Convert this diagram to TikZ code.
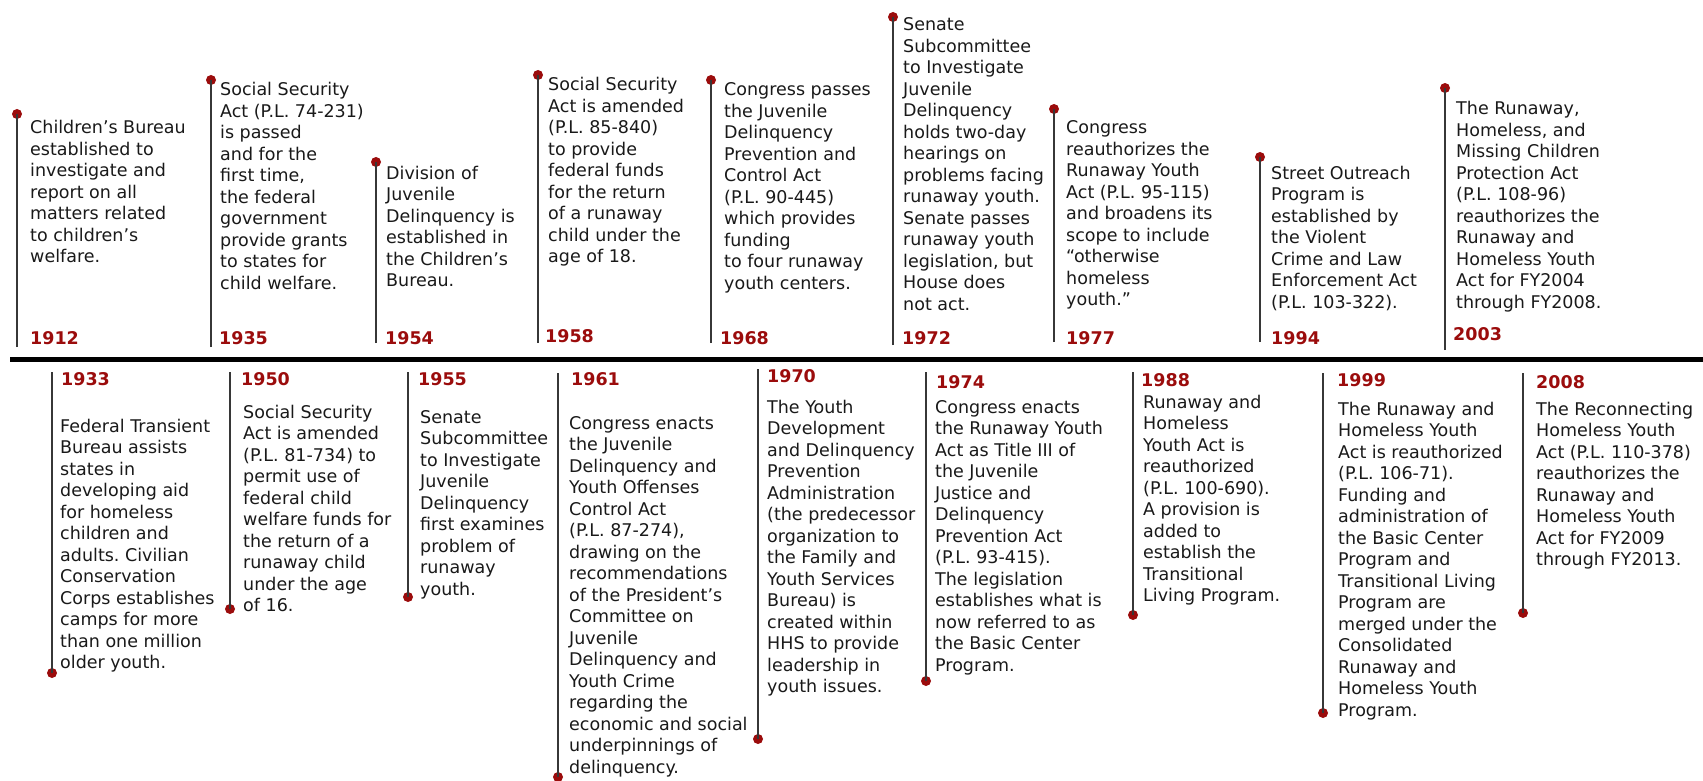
\documentclass[tikz,border=0pt]{standalone}
\usepackage{fontspec}
\setmainfont{DejaVu Sans}
\frenchspacing
\definecolor{tlred}{RGB}{155,12,12}
\definecolor{stemgray}{RGB}{55,55,55}
\definecolor{txtgray}{RGB}{25,25,25}
\newcommand\tllines[1]{\begin{tabular}[t]{@{}l@{}}#1\end{tabular}}
\begin{document}
\begin{tikzpicture}[x=1pt,y=-1pt,
  stem/.style={draw=stemgray,line width=2pt},
  pin/.style={circle,fill=tlred,inner sep=0pt,minimum size=10pt},
  yr/.style={anchor=base west,inner sep=0pt,text=tlred,font=\fontsize{17.5}{21.5}\selectfont\bfseries},
  txt/.style={anchor=base west,inner sep=0pt,text=txtgray,font=\fontsize{17.5}{21.5}\selectfont\frenchspacing}]
\useasboundingbox (0,0) rectangle (1703,781);
% main axis
\coordinate (axL) at (10,359);
\coordinate (axR) at (1703,359);
\draw[line width=5pt] (axL) -- (axR);

% ---------- top events ----------
% 1912
\node[pin] (p1912) at (17,114) {};
\coordinate (s1912) at (17,347);
\draw[stem] (s1912) -- (p1912.center);
\node[txt] (t1912) at (30,134) {\tllines{Children’s Bureau\\established to\\investigate and\\report on all\\matters related\\to children’s\\welfare.}};
\node[yr] (y1912) at (30,344) {1912};
% 1935
\node[pin] (p1935) at (211,80) {};
\coordinate (s1935) at (211,347);
\draw[stem] (s1935) -- (p1935.center);
\node[txt] (t1935) at (220,96) {\tllines{Social Security\\Act (P.L. 74-231)\\is passed\\and for the\\first time,\\the federal\\government\\provide grants\\to states for\\child welfare.}};
\node[yr] (y1935) at (219,344) {1935};
% 1954
\node[pin] (p1954) at (376,162) {};
\coordinate (s1954) at (376,343);
\draw[stem] (s1954) -- (p1954.center);
\node[txt] (t1954) at (386,179) {\tllines{Division of\\Juvenile\\Delinquency is\\established in\\the Children’s\\Bureau.}};
\node[yr] (y1954) at (385,344) {1954};
% 1958
\node[pin] (p1958) at (538,75) {};
\coordinate (s1958) at (538,343);
\draw[stem] (s1958) -- (p1958.center);
\node[txt] (t1958) at (548,91) {\tllines{Social Security\\Act is amended\\(P.L. 85-840)\\to provide\\federal funds\\for the return\\of a runaway\\child under the\\age of 18.}};
\node[yr] (y1958) at (545,342) {1958};
% 1968
\node[pin] (p1968) at (711,80) {};
\coordinate (s1968) at (711,343);
\draw[stem] (s1968) -- (p1968.center);
\node[txt] (t1968) at (724,96) {\tllines{Congress passes\\the Juvenile\\Delinquency\\Prevention and\\Control Act\\(P.L. 90-445)\\which provides\\funding\\to four runaway\\youth centers.}};
\node[yr] (y1968) at (720,344) {1968};
% 1972
\node[pin] (p1972) at (893,17) {};
\coordinate (s1972) at (893,345);
\draw[stem] (s1972) -- (p1972.center);
\node[txt] (t1972) at (903,31) {\tllines{Senate\\Subcommittee\\to Investigate\\Juvenile\\Delinquency\\holds two-day\\hearings on\\problems facing\\runaway youth.\\Senate passes\\runaway youth\\legislation, but\\House does\\not act.}};
\node[yr] (y1972) at (902,344) {1972};
% 1977
\node[pin] (p1977) at (1054,109) {};
\coordinate (s1977) at (1054,342);
\draw[stem] (s1977) -- (p1977.center);
\node[txt] (t1977) at (1066,134) {\tllines{Congress\\reauthorizes the\\Runaway Youth\\Act (P.L. 95-115)\\and broadens its\\scope to include\\“otherwise\\homeless\\youth.”}};
\node[yr] (y1977) at (1066,344) {1977};
% 1994
\node[pin] (p1994) at (1260,157) {};
\coordinate (s1994) at (1260,342);
\draw[stem] (s1994) -- (p1994.center);
\node[txt] (t1994) at (1271,179) {\tllines{Street Outreach\\Program is\\established by\\the Violent\\Crime and Law\\Enforcement Act\\(P.L. 103-322).}};
\node[yr] (y1994) at (1271,344) {1994};
% 2003
\node[pin] (p2003) at (1445,88) {};
\coordinate (s2003) at (1445,350);
\draw[stem] (s2003) -- (p2003.center);
\node[txt] (t2003) at (1456,115) {\tllines{The Runaway,\\Homeless, and\\Missing Children\\Protection Act\\(P.L. 108-96)\\reauthorizes the\\Runaway and\\Homeless Youth\\Act for FY2004\\through FY2008.}};
\node[yr] (y2003) at (1453,340) {2003};

% ---------- bottom events ----------
% 1933
\coordinate (s1933) at (52,372);
\node[pin] (p1933) at (52,673) {};
\draw[stem] (s1933) -- (p1933.center);
\node[yr] (y1933) at (61,385) {1933};
\node[txt] (t1933) at (60,432) {\tllines{Federal Transient\\Bureau assists\\states in\\developing aid\\for homeless\\children and\\adults. Civilian\\Conservation\\Corps establishes\\camps for more\\than one million\\older youth.}};
% 1950
\coordinate (s1950) at (230,372);
\node[pin] (p1950) at (230,609) {};
\draw[stem] (s1950) -- (p1950.center);
\node[yr] (y1950) at (241,385) {1950};
\node[txt] (t1950) at (243,418) {\tllines{Social Security\\Act is amended\\(P.L. 81-734) to\\permit use of\\federal child\\welfare funds for\\the return of a\\runaway child\\under the age\\of 16.}};
% 1955
\coordinate (s1955) at (408,372);
\node[pin] (p1955) at (408,597) {};
\draw[stem] (s1955) -- (p1955.center);
\node[yr] (y1955) at (418,385) {1955};
\node[txt] (t1955) at (420,423) {\tllines{Senate\\Subcommittee\\to Investigate\\Juvenile\\Delinquency\\first examines\\problem of\\runaway\\youth.}};
% 1961
\coordinate (s1961) at (558,373);
\node[pin] (p1961) at (558,777) {};
\draw[stem] (s1961) -- (p1961.center);
\node[yr] (y1961) at (571,385) {1961};
\node[txt] (t1961) at (569,429) {\tllines{Congress enacts\\the Juvenile\\Delinquency and\\Youth Offenses\\Control Act\\(P.L. 87-274),\\drawing on the\\recommendations\\of the President’s\\Committee on\\Juvenile\\Delinquency and\\Youth Crime\\regarding the\\economic and social\\underpinnings of\\delinquency.}};
% 1970
\coordinate (s1970) at (758,369);
\node[pin] (p1970) at (758,739) {};
\draw[stem] (s1970) -- (p1970.center);
\node[yr] (y1970) at (767,382) {1970};
\node[txt] (t1970) at (767,413) {\tllines{The Youth\\Development\\and Delinquency\\Prevention\\Administration\\(the predecessor\\organization to\\the Family and\\Youth Services\\Bureau) is\\created within\\HHS to provide\\leadership in\\youth issues.}};
% 1974
\coordinate (s1974) at (926,372);
\node[pin] (p1974) at (926,681) {};
\draw[stem] (s1974) -- (p1974.center);
\node[yr] (y1974) at (936,388) {1974};
\node[txt] (t1974) at (935,413) {\tllines{Congress enacts\\the Runaway Youth\\Act as Title III of\\the Juvenile\\Justice and\\Delinquency\\Prevention Act\\(P.L. 93-415).\\The legislation\\establishes what is\\now referred to as\\the Basic Center\\Program.}};
% 1988
\coordinate (s1988) at (1133,372);
\node[pin] (p1988) at (1133,615) {};
\draw[stem] (s1988) -- (p1988.center);
\node[yr] (y1988) at (1141,386) {1988};
\node[txt] (t1988) at (1143,408) {\tllines{Runaway and\\Homeless\\Youth Act is\\reauthorized\\(P.L. 100-690).\\A provision is\\added to\\establish the\\Transitional\\Living Program.}};
% 1999
\coordinate (s1999) at (1323,373);
\node[pin] (p1999) at (1323,713) {};
\draw[stem] (s1999) -- (p1999.center);
\node[yr] (y1999) at (1337,386) {1999};
\node[txt] (t1999) at (1338,415) {\tllines{The Runaway and\\Homeless Youth\\Act is reauthorized\\(P.L. 106-71).\\Funding and\\administration of\\the Basic Center\\Program and\\Transitional Living\\Program are\\merged under the\\Consolidated\\Runaway and\\Homeless Youth\\Program.}};
% 2008
\coordinate (s2008) at (1523,373);
\node[pin] (p2008) at (1523,613) {};
\draw[stem] (s2008) -- (p2008.center);
\node[yr] (y2008) at (1536,388) {2008};
\node[txt] (t2008) at (1536,415) {\tllines{The Reconnecting\\Homeless Youth\\Act (P.L. 110-378)\\reauthorizes the\\Runaway and\\Homeless Youth\\Act for FY2009\\through FY2013.}};
\end{tikzpicture}
\end{document}
